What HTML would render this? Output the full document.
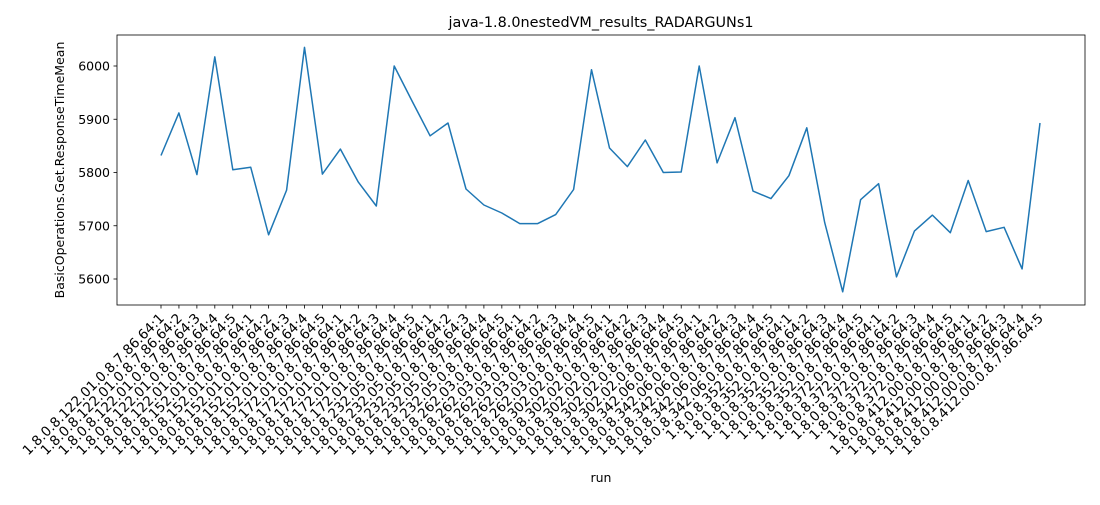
<!DOCTYPE html>
<html><head><meta charset="utf-8"><style>body{margin:0;background:#fff}svg{font-family:"DejaVu Sans","Liberation Sans",sans-serif}</style></head>
<body>
<svg id="chart" width="1100" height="500" xmlns="http://www.w3.org/2000/svg"></svg>
<script>
const groups = ["122.01","152.01","172.01","232.05","262.03","302.02","342.06","352","372","412.00"];
const runs = [1,2,3,4,5];
const values = [5832,5912,5796,6017,5805,5810,5683,5767,6035,5797,5844,5782,5737,6000,5934,5869,5893,5769,5739,5724,5704,5704,5721,5768,5993,5846,5811,5861,5800,5801,6000,5818,5903,5765,5751,5794,5884,5706,5576,5749,5779,5604,5690,5720,5687,5785,5689,5697,5619,5893];
const yTicks = [5600,5700,5800,5900,6000];
const categories = [];
groups.forEach(g => runs.forEach(r => {
  categories.push('1.8.0.8.' + g + '.0.8.7.86.64:' + r);
}));
const NS = 'http://www.w3.org/2000/svg';
const svg = document.getElementById('chart');
const L = 117, R = 1085, T = 35, B = 305;
const x0 = 161, x1 = 1040;
const xs = i => x0 + (x1 - x0) * i / (categories.length - 1);
const ys = v => 66 + (6000 - v) * 213 / 400;
function mk(tag, attrs, parent) { const e = document.createElementNS(NS, tag); for (const k in attrs) e.setAttribute(k, attrs[k]); (parent || svg).appendChild(e); return e; }
const frame = mk('rect', {x: L, y: T, width: R - L, height: B - T, fill: 'none', stroke: '#000', 'stroke-width': 0.8});


yTicks.forEach(v => {
  const y = ys(v);
  mk('line', {x1: L - 3.5, x2: L, y1: y, y2: y, stroke: '#000', 'stroke-width': 0.8});
  const t = mk('text', {x: L - 7, y: y + 4.5, 'text-anchor': 'end', 'font-size': 12.5});
  t.textContent = v;
  
  
});
categories.forEach((c, i) => {
  const x = xs(i);
  mk('line', {x1: x, x2: x, y1: B, y2: B + 3.5, stroke: '#000', 'stroke-width': 0.8});
  const t = mk('text', {x: x + 4, y: B + 14, 'text-anchor': 'end', 'font-size': 13.5, transform: `rotate(-45 ${x + 4} ${B + 14})`});
  t.textContent = c;
  
  
});
const pts = values.map((v, i) => xs(i).toFixed(1) + ',' + ys(v).toFixed(1)).join(' ');
const line = mk('polyline', {points: pts, fill: 'none', stroke: '#1f77b4', 'stroke-width': 1.5, 'stroke-linejoin': 'round'});


const title = mk('text', {x: (L + R) / 2, y: 27, 'text-anchor': 'middle', 'font-size': 14.4});
title.textContent = 'java-1.8.0nestedVM_results_RADARGUNs1';


const xt = mk('text', {x: 601, y: 482, 'text-anchor': 'middle', 'font-size': 12.5});
xt.textContent = 'run';


const yt = mk('text', {x: 64, y: 170, 'text-anchor': 'middle', 'font-size': 12.5, transform: 'rotate(-90 64 170)'});
yt.textContent = 'BasicOperations.Get.ResponseTimeMean';


</script>
</body></html>
